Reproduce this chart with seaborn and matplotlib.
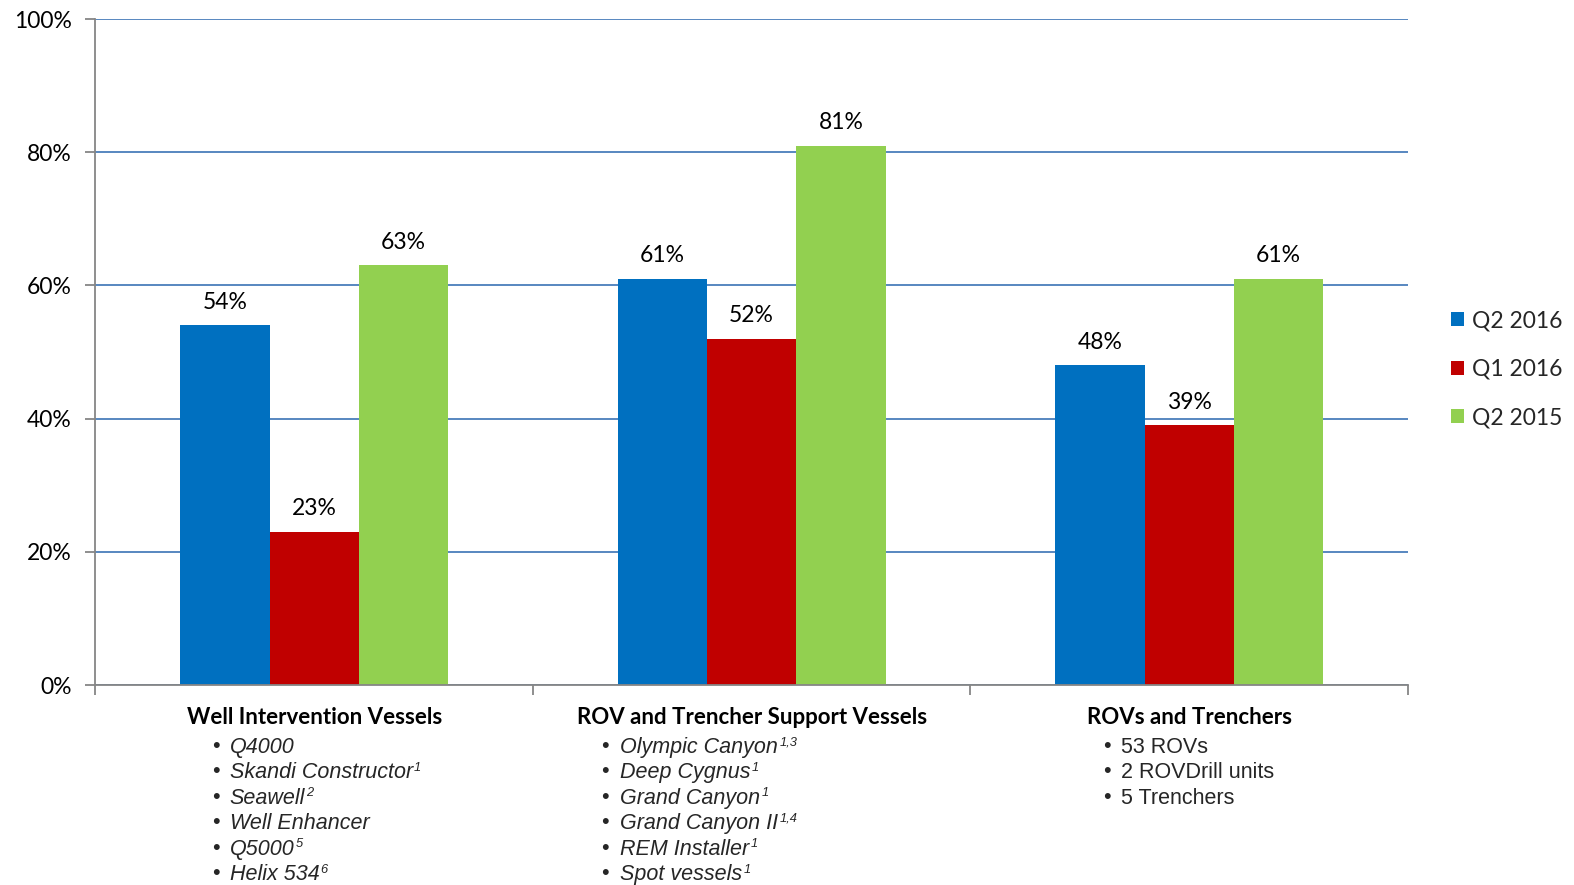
import matplotlib
matplotlib.use("Agg")
import matplotlib.pyplot as plt
import seaborn as sns
import pandas as pd
from matplotlib.ticker import PercentFormatter, FixedLocator

# ---------------- data ----------------
categories = ["Well Intervention Vessels", "ROV and Trencher Support Vessels", "ROVs and Trenchers"]
periods = ["Q2 2016", "Q1 2016", "Q2 2015"]
q2_2016 = [54, 61, 48]
q1_2016 = [23, 52, 39]
q2_2015 = [63, 81, 61]
colors = ["#0070C0", "#C00000", "#92D050"]

well_items = [("Q4000", ""), ("Skandi Constructor", "1"), ("Seawell", "2"),
              ("Well Enhancer", ""), ("Q5000", "5"), ("Helix 534", "6")]
support_items = [("Olympic Canyon", "1,3"), ("Deep Cygnus", "1"), ("Grand Canyon", "1"),
                 ("Grand Canyon II", "1,4"), ("REM Installer", "1"), ("Spot vessels", "1")]
rov_items = ["53 ROVs", "2 ROVDrill units", "5 Trenchers"]

rows = []
for p, vals in zip(periods, [q2_2016, q1_2016, q2_2015]):
    for c, v in zip(categories, vals):
        rows.append({"Category": c, "Period": p, "Value": v})
df = pd.DataFrame(rows)

# ---------------- figure ----------------
W, H = 1574, 885
SX, SY = 1574 / 1568, 885 / 882   # layout measured on the 1568x882 preview


def fp(x, y):
    return x * SX / W, 1 - y * SY / H


sns.set_theme(style="white")
plt.rcParams["font.family"] = ["Lato", "DejaVu Sans"]
fig = plt.figure(figsize=(W / 100, H / 100), dpi=100)
ax = fig.add_axes([95.4 / W, 1 - 685 / H, (1408 - 95.4) / W, (685 - 19) / H])

sns.barplot(data=df, x="Category", y="Value", hue="Period", hue_order=periods,
            palette=colors, width=0.612, gap=0, saturation=1, ax=ax,
            edgecolor="none", linewidth=0)

ax.set_ylim(0, 100)
ax.set_xlim(-0.5, 2.5)
ax.yaxis.set_major_locator(FixedLocator([0, 20, 40, 60, 80, 100]))
ax.yaxis.set_major_formatter(PercentFormatter(decimals=0))
ax.set_xticks([-0.5, 0.5, 1.5, 2.5])
ax.set_xticklabels([])
ax.set_xlabel("")
ax.set_ylabel("")
ax.grid(axis="y", color="#4A7EBB", linewidth=1.3)
ax.set_axisbelow(True)
for s in ["top", "right"]:
    ax.spines[s].set_visible(False)
for s in ["left", "bottom"]:
    ax.spines[s].set_color("#868686")
    ax.spines[s].set_linewidth(1.3)
ax.tick_params(axis="y", which="major", direction="out", length=7, width=1.3,
               color="#868686", labelsize=16.5, labelcolor="black", pad=10, left=True)
ax.tick_params(axis="x", which="major", direction="out", length=7, width=1.3,
               color="#868686", bottom=True)

for cont in ax.containers:
    ax.bar_label(cont, labels=[f"{int(round(v))}%" for v in cont.datavalues],
                 padding=9, fontsize=16.5, color="black")

handles, labels = ax.get_legend_handles_labels()
ax.legend(handles, labels, loc="center left",
          bbox_to_anchor=fp(1445.5, 368), bbox_transform=fig.transFigure,
          frameon=False, fontsize=16.5, handlelength=0.58, handleheight=0.58,
          handletextpad=0.35, labelspacing=1.2, borderaxespad=0, borderpad=0)

# ---------------- category text below axis ----------------
renderer = fig.canvas.get_renderer()
SANS = ["Liberation Sans", "DejaVu Sans"]


def sup_text(x, y, main, sup, size=15.5, style="italic"):
    t = fig.text(*fp(x, y), main, fontsize=size, style=style,
                 family=SANS, va="center", ha="left")
    if sup:
        bb = t.get_window_extent(renderer=renderer)
        fig.text(bb.x1 / W + 1 / W, fp(0, y - 5)[1], sup, fontsize=size * 0.6, style=style,
                 family=SANS, va="center", ha="left")


title_y = 715
line_ys = [744.5, 770, 795.5, 821, 846.5, 872]
centers = [313, 749, 1185]
for cx, title in zip(centers, categories):
    fig.text(*fp(cx, title_y), title, fontsize=16, fontweight="bold",
             ha="center", va="center", color="black")

groups = [(211, 229, well_items, "italic"), (599, 618, support_items, "italic"),
          (1099, 1117, [(s, "") for s in rov_items], "normal")]
for bx, tx, items, st in groups:
    for (main, sup), ly in zip(items, line_ys):
        fig.text(*fp(bx, ly - 1), "•", fontsize=15.5, family=SANS,
                 ha="left", va="center")
        sup_text(tx, ly, main, sup, style=st)

fig.savefig("out.png", dpi=100)
